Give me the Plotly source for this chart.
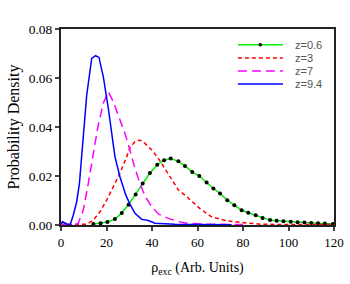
import plotly.graph_objects as go

# z=0.6 (green with dots)
x_z06 = [14.2, 17.4, 20.4, 23.7, 26.7, 29.7, 32.8, 35.9, 39.1, 42.3, 45.3, 48.2, 51.6, 54.5,
         57.7, 60.8, 64.0, 67.0, 69.9, 73.1, 76.2, 79.4, 82.3, 85.6, 88.6, 91.9, 94.8, 97.8,
         101.0, 104.0, 107.0, 110.0, 113.0, 116.0, 119.5]
y_z06 = [0.0004, 0.0007, 0.0012, 0.0024, 0.0049, 0.0083, 0.0124, 0.0169, 0.0212, 0.0246, 0.0264,
         0.0271, 0.0260, 0.0241, 0.0216, 0.0200, 0.0173, 0.0149, 0.0129, 0.0101, 0.0081, 0.0060,
         0.0050, 0.0040, 0.0029, 0.0020, 0.0017, 0.0015, 0.0013, 0.0011, 0.0010, 0.0008, 0.0007,
         0.0006, 0.0004]

# z=3 (red dash)
x_z3 = [0, 5, 8, 11.3, 14.2, 17.1, 20.1, 23.0, 25.9, 28.9, 30.3, 32.5, 34.7, 36.9, 39.9, 42.8,
        45.7, 48.7, 51.6, 54.5, 58.2, 61.1, 66.2, 73.5, 80.9, 88, 100, 120]
y_z3 = [0.0002, 0.0002, 0.0001, 0.0003, 0.0020, 0.0054, 0.0102, 0.0156, 0.0211, 0.0279, 0.0316,
        0.0340, 0.0347, 0.0333, 0.0306, 0.0272, 0.0231, 0.0184, 0.0143, 0.0122, 0.0092, 0.0067,
        0.0033, 0.0016, 0.0009, 0.0003, 0.0002, 0.0002]

# z=7 (magenta long dash)
x_z7 = [0, 3, 6.2, 7.6, 9.8, 12.0, 14.2, 16.2, 18.6, 20.8, 23.0, 26.7, 28.1, 30.3, 32.5, 34.7,
        37.0, 39.9, 42.8, 47.2, 51.6, 55.2, 65, 80]
y_z7 = [0.0003, 0.0001, 0.0001, 0.0007, 0.0061, 0.0170, 0.0293, 0.0400, 0.0497, 0.0544, 0.0503,
        0.0408, 0.0374, 0.0306, 0.0231, 0.0170, 0.0116, 0.0075, 0.0045, 0.0027, 0.0014, 0.0007,
        0.0003, 0.0002]

# z=9.4 (blue solid)
x_z94 = [0, 0.7, 2.5, 4.0, 5.4, 6.9, 8.1, 9.1, 9.8, 11.3, 13.5, 15.2, 16.7, 18.6, 20.8, 22.3,
         23.7, 25.9, 28.5, 30.3, 32.5, 35.5, 38.4, 41.3, 50, 60, 75]
y_z94 = [0.0005, 0.0013, 0.0004, 0.0001, 0.0040, 0.0095, 0.0170, 0.0280, 0.0370, 0.0530, 0.0680,
         0.0691, 0.0684, 0.0605, 0.0476, 0.0370, 0.0279, 0.0197, 0.0122, 0.0085, 0.0048, 0.0023,
         0.0018, 0.0007, 0.0003, 0.0002, 0.0001]

x_ticks = [0, 20, 40, 60, 80, 100, 120]
y_ticks = [0.00, 0.02, 0.04, 0.06, 0.08]

series_names = ["z=0.6", "z=3", "z=7", "z=9.4"]
series_colors = ["#00ee00", "#ff0000", "#ff00ff", "#0000ff"]
series_dashes = ["solid", "4px,3px", "9px,5px", "solid"]

fig = go.Figure()
fig.add_trace(go.Scatter(x=x_z06, y=y_z06, name=series_names[0], mode="lines+markers",
                         line=dict(color=series_colors[0], width=1.5),
                         marker=dict(color="black", size=4)))
fig.add_trace(go.Scatter(x=x_z3, y=y_z3, name=series_names[1], mode="lines",
                         line=dict(color=series_colors[1], width=1.5, dash=series_dashes[1])))
fig.add_trace(go.Scatter(x=x_z7, y=y_z7, name=series_names[2], mode="lines",
                         line=dict(color=series_colors[2], width=1.5, dash=series_dashes[2])))
fig.add_trace(go.Scatter(x=x_z94, y=y_z94, name=series_names[3], mode="lines",
                         line=dict(color=series_colors[3], width=1.5)))

# compact legend drawn in paper coordinates
leg_rows = [0.920, 0.852, 0.786, 0.719]
shapes = []
annotations = []
for name, col, dash, yy in zip(series_names, series_colors, series_dashes, leg_rows):
    shapes.append(dict(type="line", xref="paper", yref="paper", x0=0.648, x1=0.813, y0=yy, y1=yy,
                       line=dict(color=col, width=1.5, dash=dash)))
    annotations.append(dict(xref="paper", yref="paper", x=0.850, y=yy, xanchor="left",
                            yanchor="middle", text=name, showarrow=False,
                            font=dict(family="Liberation Sans, Arial, sans-serif", size=11,
                                      color="#555")))
shapes.append(dict(type="circle", xref="paper", yref="paper", x0=0.7235, x1=0.7365,
                   y0=leg_rows[0] - 0.009, y1=leg_rows[0] + 0.009, fillcolor="black",
                   line=dict(width=0)))

serif = "Liberation Serif, Times New Roman, serif"
fig.update_layout(
    width=350, height=284,
    margin=dict(l=61, r=16, t=29, b=59),
    paper_bgcolor="white", plot_bgcolor="white",
    showlegend=False,
    shapes=shapes, annotations=annotations,
    font=dict(family=serif, color="black"),
)
fig.update_xaxes(range=[0, 120], tickvals=x_ticks, ticks="outside", ticklen=4, tickwidth=1.5,
                 showline=True, linecolor="#222", linewidth=2, mirror=True, showgrid=False,
                 zeroline=False, automargin=False, tickfont=dict(family=serif, size=13),
                 title=dict(text="ρ<sub>exc</sub> (Arb. Units)", font=dict(family=serif, size=14),
                            standoff=14))
fig.update_yaxes(range=[0, 0.08], tickvals=y_ticks, tickformat=".2f", ticks="outside", ticklen=4,
                 tickwidth=1.5, showline=True, linecolor="#222", linewidth=2, mirror=True,
                 showgrid=False, zeroline=False, automargin=False,
                 tickfont=dict(family=serif, size=13.5),
                 title=dict(text="Probability Density", font=dict(family=serif, size=16),
                            standoff=5))

fig.write_html("out.html", config={"displayModeBar": False},
               post_script="document.body.style.margin='0';")
